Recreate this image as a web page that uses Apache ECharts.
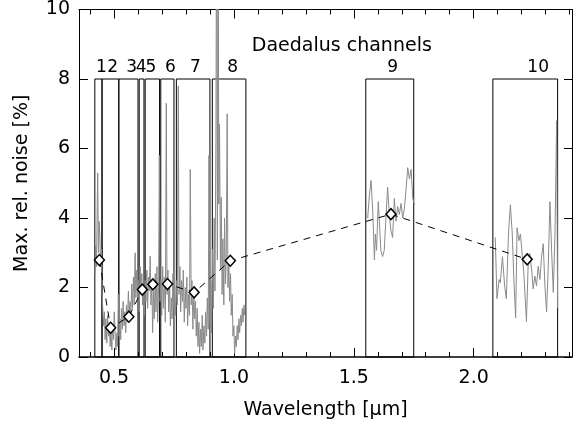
<!DOCTYPE html>
<html>
<head>
<meta charset="utf-8">
<script src="https://cdn.jsdelivr.net/npm/echarts@6/dist/echarts.min.js"></script>
<style>
  html, body { margin: 0; padding: 0; background: #fff; }
  #chart { width: 577px; height: 425px; }
</style>
</head>
<body>
<div id="chart"></div>
<script>
// Daedalus channel limits [um]
var channelNames = ['1', '2', '3', '4', '5', '6', '7', '8', '9', '10'];
var channelLo = [0.42, 0.45, 0.52, 0.605, 0.63, 0.695, 0.76, 0.91, 1.55, 2.08];
var channelHi = [0.45, 0.52, 0.60, 0.625, 0.69, 0.75, 0.90, 1.05, 1.75, 2.35];
var channelLabelX = [0.447, 0.494, 0.574, 0.613, 0.654, 0.735, 0.839, 0.995, 1.662, 2.269];

// mean noise per channel (diamonds)
var meanX = [0.439, 0.486, 0.562, 0.618, 0.662, 0.723, 0.834, 0.985, 1.655, 2.223];
var meanY = [2.79, 0.84, 1.16, 1.94, 2.09, 2.10, 1.86, 2.77, 4.11, 2.81];

// spectral noise
var noiseVnir = [
  [0.421, 2.4], [0.424, 3.2], [0.427, 2.6], [0.430, 4.4], [0.432, 5.3], [0.435, 3.0], [0.438, 3.9], [0.441, 3.5],
  [0.444, 2.6], [0.447, 3.1], [0.450, 1.9], [0.453, 1.4], [0.457, 0.9], [0.460, 1.3], [0.463, 0.5], [0.466, 1.1],
  [0.470, 0.4], [0.473, 1.2], [0.477, 0.6], [0.480, 1.0], [0.484, 0.3], [0.487, 0.8], [0.491, 0.2], [0.494, 0.9],
  [0.498, 0.5], [0.501, 1.3], [0.505, 0.6], [0.508, 0.2], [0.512, 0.7], [0.515, 0.3], [0.518, 1.8], [0.521, 0.6],
  [0.525, 1.1], [0.528, 0.5], [0.531, 1.4], [0.535, 0.8], [0.538, 1.6], [0.542, 0.9], [0.545, 1.3], [0.549, 0.7],
  [0.552, 1.5], [0.556, 1.0], [0.560, 1.9], [0.563, 1.2], [0.567, 1.6], [0.570, 1.1], [0.574, 2.1], [0.577, 1.4],
  [0.581, 2.3], [0.584, 1.5], [0.588, 3.0], [0.591, 1.7], [0.595, 2.5], [0.598, 1.6], [0.602, 2.2], [0.605, 1.3],
  [0.609, 2.6], [0.612, 1.8], [0.616, 2.4], [0.619, 1.5], [0.623, 2.0], [0.626, 1.2], [0.630, 2.2], [0.633, 1.6],
  [0.637, 2.5], [0.640, 1.4], [0.644, 2.3], [0.647, 1.9], [0.651, 2.9], [0.654, 1.5], [0.658, 2.2], [0.661, 0.7],
  [0.665, 1.9], [0.668, 1.1], [0.672, 2.4], [0.675, 1.3], [0.679, 2.6], [0.682, 1.0], [0.686, 2.0], [0.689, 5.8],
  [0.692, 1.6], [0.696, 2.2], [0.699, 1.2], [0.703, 2.6], [0.706, 1.4], [0.710, 2.3], [0.714, 1.0], [0.718, 7.3],
  [0.721, 1.8], [0.725, 2.5], [0.728, 1.3], [0.732, 2.1], [0.735, 0.9], [0.739, 1.7], [0.742, 1.1], [0.746, 2.4],
  [0.749, 1.4], [0.753, 2.0], [0.757, 1.2], [0.760, 2.2], [0.764, 1.5], [0.768, 7.8], [0.771, 1.8], [0.775, 2.6],
  [0.778, 1.3], [0.782, 2.2], [0.786, 1.6], [0.789, 2.5], [0.793, 1.0], [0.797, 2.0], [0.800, 1.4], [0.804, 2.3],
  [0.807, 0.9], [0.811, 1.8], [0.815, 1.2], [0.818, 5.4], [0.822, 1.5], [0.825, 2.2], [0.829, 0.8], [0.833, 1.9],
  [0.836, 1.1], [0.840, 1.6], [0.843, 0.6], [0.847, 1.4], [0.850, 0.3], [0.854, 1.0], [0.857, 0.1], [0.861, 0.8],
  [0.864, 0.3], [0.868, 1.2], [0.871, 0.2], [0.875, 0.9], [0.879, 0.4], [0.882, 1.3], [0.886, 0.6], [0.889, 1.7],
  [0.893, 0.8], [0.896, 5.8], [0.900, 1.0], [0.904, 2.2], [0.907, 0.7], [0.911, 3.1], [0.914, 1.4], [0.918, 4.0],
  [0.921, 1.9], [0.925, 6.2], [0.928, 14], [0.931, 2.8], [0.934, 14], [0.937, 4.4], [0.940, 6.7], [0.944, 2.5],
  [0.947, 4.6], [0.951, 1.8], [0.954, 3.4], [0.958, 1.5], [0.961, 4.0], [0.965, 2.1], [0.968, 2.8], [0.972, 7.0],
  [0.975, 2.0], [0.979, 2.7], [0.982, 1.6], [0.986, 2.4], [0.989, 1.2], [0.993, 1.8], [0.996, 0.6], [1.000, 0.9],
  [1.003, 0.1], [1.007, 0.6], [1.010, 0.3], [1.014, 0.9], [1.017, 0.5], [1.021, 1.1], [1.024, 0.7], [1.028, 1.2],
  [1.031, 0.9], [1.035, 1.4], [1.038, 1.0], [1.042, 1.5], [1.045, 1.2]
];
var noiseCh9 = [
  [1.558, 4.00], [1.565, 4.66], [1.572, 5.08], [1.579, 4.19], [1.586, 2.79], [1.590, 3.54], [1.595, 3.07],
  [1.602, 4.47], [1.608, 3.72], [1.613, 3.07], [1.620, 2.89], [1.627, 3.07], [1.634, 4.00], [1.641, 4.89],
  [1.648, 4.10], [1.655, 3.63], [1.662, 3.44], [1.669, 4.56], [1.676, 3.91], [1.683, 4.33], [1.690, 4.10],
  [1.697, 4.42], [1.704, 4.00], [1.711, 4.28], [1.718, 4.84], [1.725, 5.45], [1.732, 5.12], [1.739, 5.40],
  [1.746, 4.56], [1.753, 4.38]
];
var noiseCh10 = [
  [2.090, 3.44], [2.097, 1.68], [2.106, 2.23], [2.111, 2.14], [2.120, 2.89], [2.129, 2.05], [2.136, 1.68],
  [2.145, 3.54], [2.153, 4.38], [2.161, 3.54], [2.167, 2.33], [2.175, 1.12], [2.181, 3.72], [2.189, 3.35],
  [2.195, 3.54], [2.203, 2.89], [2.209, 2.42], [2.215, 1.68], [2.220, 1.02], [2.227, 2.61], [2.234, 2.98],
  [2.243, 2.42], [2.248, 1.96], [2.255, 2.33], [2.262, 2.05], [2.269, 2.61], [2.276, 2.23], [2.283, 2.89],
  [2.290, 3.26], [2.297, 2.05], [2.304, 1.30], [2.311, 2.61], [2.318, 4.47], [2.325, 3.07], [2.332, 1.86],
  [2.339, 3.54], [2.346, 6.80], [2.350, 1.40]
];

// axis ticks
var xMajorTicks = [0.5, 1.0, 1.5, 2.0];
var xMinorTicks = [0.4, 0.6, 0.7, 0.8, 0.9, 1.1, 1.2, 1.3, 1.4, 1.6, 1.7, 1.8, 1.9, 2.1, 2.2, 2.3, 2.4];

var FONT = 'DejaVu Sans';
var X_MIN = 0.354, X_MAX = 2.41;
var textStyle = { color: '#000', fontFamily: FONT, fontSize: 19, fontWeight: 'normal' };

var myChart = echarts.init(document.getElementById('chart'));

function xAx(pos, ticks, len, labels, lineW) {
  return {
    type: 'value', position: pos, min: X_MIN, max: X_MAX,
    axisLine: { show: lineW > 0, onZero: false, lineStyle: { color: '#000', width: lineW } },
    axisTick: { show: true, inside: true, length: len, customValues: ticks, lineStyle: { color: '#000', width: 1 } },
    axisLabel: labels ? Object.assign({
      show: true, customValues: ticks, margin: 12,
      formatter: function (v) { return v.toFixed(1); }
    }, textStyle) : { show: false },
    splitLine: { show: false }
  };
}

var boxes = channelLo.map(function (lo, i) {
  return [{ xAxis: lo, yAxis: 0 }, { xAxis: channelHi[i], yAxis: 8 }];
});

var option = {
  animation: false,
  grid: { left: 79, right: 5, top: 3, bottom: 65, containLabel: false },
  xAxis: [
    Object.assign(xAx('bottom', xMajorTicks, 9, true, 1.5), {
      name: 'Wavelength [μm]', nameLocation: 'middle', nameGap: 44, nameTextStyle: textStyle
    }),
    xAx('bottom', xMinorTicks, 5, false, 0),
    xAx('top', xMajorTicks, 9, false, 1),
    xAx('top', xMinorTicks, 5, false, 0)
  ],
  yAxis: [
    {
      type: 'value', position: 'left', min: 0, max: 10, interval: 2,
      name: 'Max. rel. noise [%]', nameLocation: 'middle', nameGap: 47, nameRotate: 90,
      nameTextStyle: textStyle,
      axisLine: { show: true, lineStyle: { color: '#000', width: 1 } },
      axisTick: { show: true, inside: true, length: 9, lineStyle: { color: '#000' } },
      axisLabel: Object.assign({ margin: 9 }, textStyle),
      splitLine: { show: false }
    },
    {
      type: 'value', position: 'right', min: 0, max: 10, interval: 2,
      axisLine: { show: true, lineStyle: { color: '#000', width: 1 } },
      axisTick: { show: true, inside: true, length: 8, lineStyle: { color: '#000' } },
      axisLabel: { show: false },
      splitLine: { show: false }
    }
  ],
  series: [
    {
      name: 'boxes', type: 'line', data: [], silent: true,
      markArea: {
        silent: true,
        itemStyle: { color: 'rgba(0,0,0,0)', borderColor: '#000', borderWidth: 1 },
        data: boxes
      }
    },
    {
      name: 'noise VNIR', type: 'line', data: noiseVnir, showSymbol: false, z: 3,
      lineStyle: { color: '#8a8a8a', width: 1 }
    },
    {
      name: 'noise 9', type: 'line', data: noiseCh9, showSymbol: false, z: 3,
      lineStyle: { color: '#8a8a8a', width: 1 }
    },
    {
      name: 'noise 10', type: 'line', data: noiseCh10, showSymbol: false, z: 3,
      lineStyle: { color: '#8a8a8a', width: 1 }
    },
    {
      name: 'mean', type: 'line', z: 5,
      data: meanX.map(function (x, i) { return [x, meanY[i]]; }),
      symbol: 'diamond', symbolSize: [10, 11], showAllSymbol: true,
      lineStyle: { color: '#000', width: 1, type: [7, 6] },
      itemStyle: { color: '#fff', borderColor: '#000', borderWidth: 1.5 }
    },
    {
      name: 'channel labels', type: 'scatter', symbolSize: 0, silent: true,
      itemStyle: { color: '#000', opacity: 1 },
      data: channelLabelX.map(function (x, i) { return [x, 8.32, channelNames[i]]; }),
      label: {
        show: true, position: 'inside', color: '#000', fontFamily: FONT, fontSize: 17,
        textBorderWidth: 0, textBorderColor: 'transparent',
        formatter: function (p) { return p.value[2]; }
      }
    },
    {
      name: 'title', type: 'scatter', symbolSize: 0, silent: true,
      itemStyle: { color: '#000', opacity: 1 },
      data: [[1.45, 8.94, 'Daedalus channels']],
      label: Object.assign({
        show: true, position: 'inside', textBorderWidth: 0, textBorderColor: 'transparent',
        formatter: function (p) { return p.value[2]; }
      }, textStyle)
    }
  ]
};

myChart.setOption(option);
</script>
</body>
</html>
